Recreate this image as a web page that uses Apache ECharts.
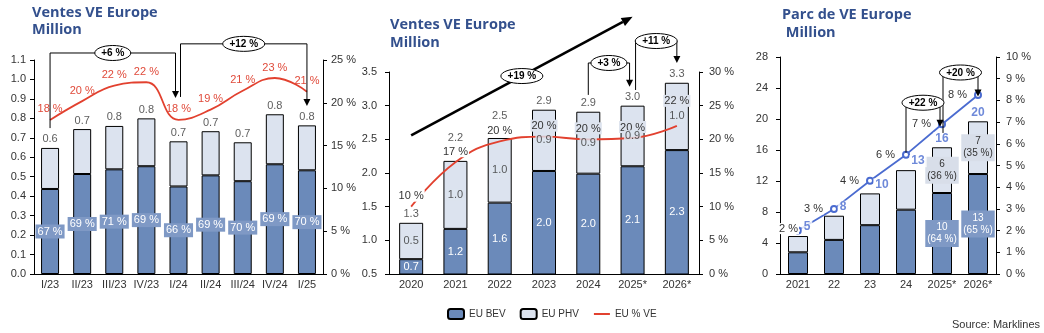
<!DOCTYPE html>
<html><head><meta charset="utf-8">
<script src="https://cdn.jsdelivr.net/npm/echarts@6/dist/echarts.min.js"></script>
<style>html,body{margin:0;padding:0;background:#fff}#c{width:1044px;height:333px}</style>
</head><body><div id="c"></div>
<script>
// ---------- Panel 1: quarterly EV sales Europe (million) ----------
const quarters = ['I/23','II/23','III/23','IV/23','I/24','II/24','III/24','IV/24','I/25'];
const qBev = [0.437,0.514,0.538,0.554,0.450,0.507,0.477,0.564,0.533];
const qPhv = [0.211,0.231,0.223,0.246,0.232,0.227,0.200,0.257,0.231];
const qVePct = [18.0,20.2,22.0,22.4,18.0,19.2,21.4,22.9,21.3];
const qGrowth = ['+6 %','+12 %'];
// ---------- Panel 2: yearly EV sales Europe (million) ----------
const years = ['2020','2021','2022','2023','2024','2025*','2026*'];
const yBev = [0.72,1.17,1.56,2.03,1.99,2.10,2.34];
const yPhv = [0.54,1.01,0.96,0.91,0.92,0.90,1.00];
const yVePct = [10.0,16.6,19.7,20.4,20.0,20.2,22.0];
const yGrowth = ['+19 %','+3 %','+11 %'];
// ---------- Panel 3: EV fleet Europe (million) ----------
const parcYears = ['2021','22','23','24','2025*','2026*'];
const pBev = [2.8,4.4,6.3,8.3,10.45,12.9];
const pPhv = [2.1,3.12,4.1,5.1,5.9,6.8];
const pVePct = [2.0,3.0,4.3,5.5,6.9,8.25];
const pGrowth = ['+22 %','+20 %'];
// ---------- axis ticks [min, max, step] ----------
const ax1L = [0, 1.1, 0.1], ax1R = [0, 25, 5];
const ax2L = [0.5, 3.5, 0.5], ax2R = [0, 30, 5];
const ax3L = [0, 28, 4], ax3R = [0, 10, 1];

const qTot = qBev.map((v,i)=>v+qPhv[i]);
const yTot = yBev.map((v,i)=>v+yPhv[i]);
const pTot = pBev.map((v,i)=>v+pPhv[i]);

const C_BEV='#6b8aba', C_PHV='#dce3ef', C_RED='#e2412f', C_BLUE='#4a6bd0', C_TXT='#333';
const FF = 'Liberation Sans, Arial, sans-serif';

const chart = echarts.init(document.getElementById('c'));

function xAx(grid, data){
  return {type:'category', gridIndex:grid, data, boundaryGap:true,
    axisLine:{show:true, lineStyle:{color:'#000', width:1}}, axisTick:{show:false},
    axisLabel:{color:C_TXT, fontSize:11, fontFamily:FF, margin:5, interval:0}};
}
function yAx(grid, pos, r, margin, fmt){
  return {type:'value', gridIndex:grid, position:pos, min:r[0], max:r[1], interval:r[2],
    axisLine:{show:true, lineStyle:{color:'#000', width:1}},
    axisTick:{show:true, length:4, lineStyle:{color:'#000'}},
    splitLine:{show:false},
    axisLabel:{color:C_TXT, fontSize:11, fontFamily:FF, margin, formatter:fmt}};
}
const pctFmt = v => Math.round(v) + ' %';
const barStyle = c => ({color:c, borderColor:'#000', borderWidth:1});

const option = {
  animation:false,
  backgroundColor:'#fff',
  textStyle:{fontFamily:FF},
  title:[
    {left:32, top:4, padding:0, text:'Ventes VE Europe\nMillion', textStyle:{fontSize:14.5, fontWeight:'bold', color:'#33508d', lineHeight:17, fontFamily:'Open Sans, Liberation Sans, sans-serif'}},
    {left:390, top:16, padding:0, text:'Ventes VE Europe\nMillion', textStyle:{fontSize:14.5, fontWeight:'bold', color:'#33508d', lineHeight:18, fontFamily:'Open Sans, Liberation Sans, sans-serif'}},
    {left:782, top:6, padding:0, text:'Parc de VE Europe\n Million', textStyle:{fontSize:14.5, fontWeight:'bold', color:'#33508d', lineHeight:18, fontFamily:'Open Sans, Liberation Sans, sans-serif'}}
  ],
  legend:{left:447, top:308, padding:0, itemWidth:16, itemHeight:10, itemGap:14,
    textStyle:{fontSize:10, color:C_TXT, fontFamily:FF},
    data:[{name:'EU BEV'},{name:'EU PHV'},{name:'EU % VE', itemStyle:{opacity:0}}]},
  grid:[
    {left:34, top:60, width:289, height:214, containLabel:false, outerBoundsMode:'none'},
    {left:389, top:72, width:310, height:202, containLabel:false, outerBoundsMode:'none'},
    {left:780, top:57, width:216, height:217, containLabel:false, outerBoundsMode:'none'}
  ],
  xAxis:[xAx(0, quarters), xAx(1, years), xAx(2, parcYears)],
  yAxis:[
    yAx(0,'left',ax1L,8,v=>v.toFixed(1)), yAx(0,'right',ax1R,8,'{value} %'),
    yAx(1,'left',ax2L,12,v=>v.toFixed(1)), yAx(1,'right',ax2R,10,'{value} %'),
    yAx(2,'left',ax3L,12,'{value}'), yAx(2,'right',ax3R,10,'{value} %')
  ],
  series:[
    // ---- panel 1 ----
    {name:'EU BEV', type:'bar', xAxisIndex:0, yAxisIndex:0, stack:'q', barWidth:18, data:qBev,
      itemStyle:barStyle(C_BEV),
      label:{show:true, position:'inside', color:'#fff', fontSize:11, backgroundColor:'#7f99c5', padding:[2,2,1,2],
        formatter:p=>Math.round(qBev[p.dataIndex]/qTot[p.dataIndex]*100)+' %'}},
    {name:'EU PHV', type:'bar', xAxisIndex:0, yAxisIndex:0, stack:'q', barWidth:18, data:qPhv, itemStyle:barStyle(C_PHV)},
    {name:'q-total', type:'scatter', xAxisIndex:0, yAxisIndex:0, data:qTot, symbolSize:0, silent:true, z:10,
      label:{show:true, position:'top', distance:3, color:C_TXT, fontSize:11, formatter:p=>p.value.toFixed(1)}},
    {name:'EU % VE', type:'line', xAxisIndex:0, yAxisIndex:1, data:qVePct, smooth:0.45, symbol:'circle', symbolSize:0, z:5,
      lineStyle:{color:C_RED, width:1.8}, itemStyle:{color:C_RED},
      label:{show:true, position:'top', distance:5, color:'#e04a3a', fontSize:11, formatter:p=>pctFmt(p.value)}},
    // ---- panel 2 ----
    {name:'EU BEV', type:'bar', xAxisIndex:1, yAxisIndex:2, stack:'y', barWidth:24, data:yBev,
      itemStyle:barStyle(C_BEV),
      label:{show:true, position:'inside', color:'#fff', fontSize:11, formatter:p=>p.value.toFixed(1)}},
    {name:'EU PHV', type:'bar', xAxisIndex:1, yAxisIndex:2, stack:'y', barWidth:24, data:yPhv, itemStyle:barStyle(C_PHV)},
    {name:'EU % VE', type:'line', xAxisIndex:1, yAxisIndex:3, smooth:0.45, symbol:'circle', symbolSize:0, z:5,
      lineStyle:{color:C_RED, width:1.8}, itemStyle:{color:C_RED},
      data:yVePct.map((v,i)=>({value:v, label:{backgroundColor:i>=3?'#dde3ee':'#fff', offset:i===6?[0,-14]:[0,0]}})),
      label:{show:true, position:'top', distance:5, color:C_TXT, fontSize:11, padding:[1,1,0,1], formatter:p=>pctFmt(p.value)}},
    {name:'y-phv-label', type:'scatter', xAxisIndex:1, yAxisIndex:2, symbolSize:0, silent:true, z:8,
      data:yPhv.map((v,i)=>yBev[i]+v/2),
      label:{show:true, position:'inside', color:C_TXT, fontSize:11, backgroundColor:C_PHV, padding:[1,1,0,1],
        formatter:p=>yPhv[p.dataIndex].toFixed(1)}},
    {name:'y-total', type:'scatter', xAxisIndex:1, yAxisIndex:2, symbolSize:0, silent:true, z:10,
      data:yTot.map((v,i)=>({value:v, label:{offset:(i===1||i===2)?[0,-14]:[0,0]}})),
      label:{show:true, position:'top', distance:3, color:C_TXT, fontSize:11, formatter:p=>p.value.toFixed(1)}},
    // ---- panel 3 ----
    {name:'EU BEV', type:'bar', xAxisIndex:2, yAxisIndex:4, stack:'p', barWidth:20,
      data:pBev.map((v,i)=>({value:v, label:{show:i>=4}})),
      itemStyle:barStyle(C_BEV),
      label:{position:'inside', color:'#fff', fontSize:10, lineHeight:12, backgroundColor:'#7f99c5', padding:[2,2,1,2],
        formatter:p=>Math.round(pBev[p.dataIndex])+'\n('+Math.round(pBev[p.dataIndex]/pTot[p.dataIndex]*100)+' %)'}},
    {name:'EU PHV', type:'bar', xAxisIndex:2, yAxisIndex:4, stack:'p', barWidth:20,
      data:pPhv.map((v,i)=>({value:v, label:{show:i>=4}})),
      itemStyle:barStyle(C_PHV),
      label:{position:'inside', color:C_TXT, fontSize:10, lineHeight:12, backgroundColor:'#d8dee9', padding:[2,2,1,2],
        formatter:p=>Math.round(pPhv[p.dataIndex])+'\n('+Math.round(pPhv[p.dataIndex]/pTot[p.dataIndex]*100)+' %)'}},
    {name:'Parc % VE', type:'line', xAxisIndex:2, yAxisIndex:5, symbol:'emptyCircle', symbolSize:6, z:5,
      lineStyle:{color:C_BLUE, width:1.8}, itemStyle:{color:C_BLUE, borderWidth:1.2},
      data:pVePct.map((v,i)=>({value:v, label:{offset:i===0?[11,-2]:[0,0]}})),
      label:{show:true, position:'left', distance:6, color:C_TXT, fontSize:11, backgroundColor:'#fff', padding:[0,1],
        formatter:p=>pctFmt(p.value)}},
    {name:'p-total', type:'scatter', xAxisIndex:2, yAxisIndex:4, symbolSize:0, silent:true, z:10,
      data:pTot.map((v,i)=>({value:v, label:{offset:i<2?[9,0]:(i<4?[12,0]:[0,0])}})),
      label:{show:true, position:'top', distance:3, color:C_BLUE, fontSize:12, fontWeight:'bold', backgroundColor:'#fff', padding:[0,2],
        formatter:p=>Math.round(p.value)}}
  ]
};
chart.setOption(option);

// ---------- annotations anchored on the axes ----------
const G = [];
const leftAxis = [0,2,4];
function P(g, cat, val){ return chart.convertToPixel({xAxisIndex:g, yAxisIndex:leftAxis[g]}, [cat, val]); }
function bubble(cx, cy, txt){
  const w = 12 + txt.length*6;
  G.push({type:'ellipse', silent:true, z:101, shape:{cx, cy, rx:w/2, ry:7.5}, style:{fill:'#fff', stroke:'#000', lineWidth:1}});
  G.push({type:'text', silent:true, z:102, x:cx, y:cy+0.5, style:{text:txt, align:'center', verticalAlign:'middle', fontSize:10, fontWeight:'bold', fontFamily:FF, fill:'#000'}});
}
function bracket(g, c1, v1, dx1, c2, v2, dx2, vTop, txt){
  const a = P(g,c1,v1), b = P(g,c2,v2), t = P(g,c1,vTop);
  const x1 = a[0]+dx1, x2 = b[0]+dx2, yT = t[1];
  G.push({type:'polyline', silent:true, z:100, shape:{points:[[x1,a[1]],[x1,yT],[x2,yT],[x2,b[1]-6]]}, style:{stroke:'#000', lineWidth:1, fill:'none'}});
  G.push({type:'polygon', silent:true, z:100, shape:{points:[[x2-3.5,b[1]-7],[x2+3.5,b[1]-7],[x2,b[1]]]}, style:{fill:'#000'}});
  bubble((x1+x2)/2, yT, txt);
}
bracket(0, 0, 0.75, 0, 4, 0.905, -3, 1.136, qGrowth[0]);
bracket(0, 4, 0.91, 2, 8, 0.864, 0, 1.183, qGrowth[1]);
// big trend arrow panel 2
(function(){
  const s = P(1,0,2.56), e = P(1,5,4.32);
  const ang = Math.atan2(e[1]-s[1], e[0]-s[0]);
  const L = 11, W = 4.5;
  const bx = e[0]-L*Math.cos(ang), by = e[1]-L*Math.sin(ang);
  G.push({type:'line', silent:true, z:100, shape:{x1:s[0], y1:s[1], x2:bx, y2:by}, style:{stroke:'#000', lineWidth:2.6}});
  G.push({type:'polygon', silent:true, z:100, shape:{points:[[e[0],e[1]],[bx-W*Math.sin(ang), by+W*Math.cos(ang)],[bx+W*Math.sin(ang), by-W*Math.cos(ang)]]}, style:{fill:'#000'}});
  bubble((s[0]+e[0])/2, (s[1]+e[1])/2, yGrowth[0]);
})();
bracket(1, 4, 3.16, 0, 5, 3.28, -3, 3.634, yGrowth[1]);
bracket(1, 5, 3.233, 3, 6, 3.634, 0, 3.96, yGrowth[2]);
bracket(2, 3, 15.65, 0, 4, 19.0, -2, 22.1, pGrowth[0]);
bracket(2, 4, 18.2, 1, 5, 22.9, 0, 26.0, pGrowth[1]);
G.push({type:'text', silent:true, z:100, right:4, bottom:3, style:{text:'Source: Marklines', fontSize:11, fontFamily:FF, fill:C_TXT}});
chart.setOption({graphic:G});
</script></body></html>
